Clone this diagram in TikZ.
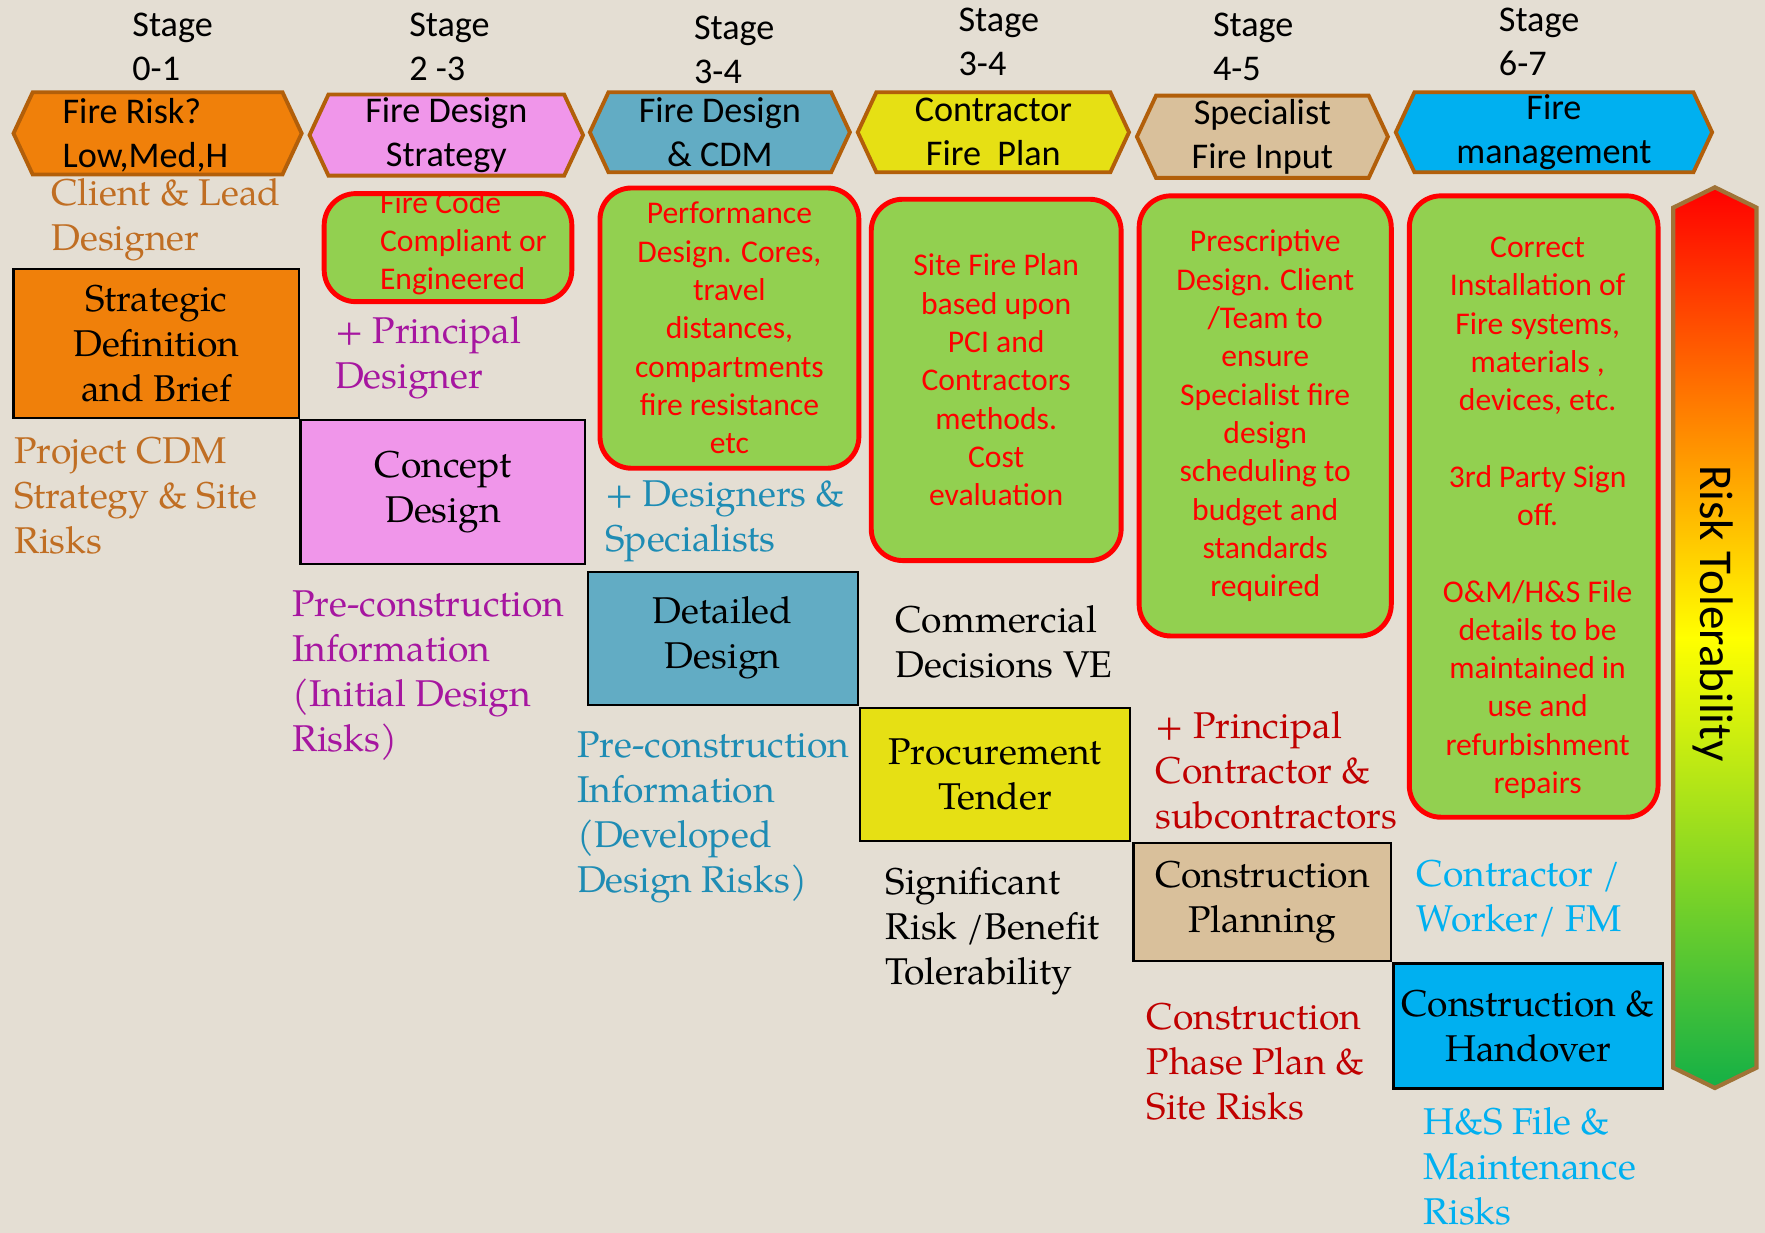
\documentclass[tikz,border=0pt]{standalone}
\usepackage{fontspec}
\newfontfamily\calibri{Carlito}
\setmainfont{TeX Gyre Pagella}
\usetikzlibrary{shapes.symbols}

\definecolor{fondo}{RGB}{228,222,211}
\definecolor{naranja}{RGB}{240,128,10}
\definecolor{rosa}{RGB}{240,150,234}
\definecolor{azul}{RGB}{98,172,196}
\definecolor{amarillo}{RGB}{230,224,20}
\definecolor{canela}{RGB}{217,192,155}
\definecolor{celeste}{RGB}{0,176,240}
\definecolor{verdeclaro}{RGB}{146,208,80}
\definecolor{rojo}{RGB}{255,0,0}
\definecolor{rojooscuro}{RGB}{192,0,0}
\definecolor{borde}{RGB}{178,95,10}
\definecolor{marron}{RGB}{192,110,35}
\definecolor{morado}{RGB}{166,22,160}
\definecolor{turquesa}{RGB}{30,140,180}
\definecolor{bordebarra}{RGB}{160,115,55}
\definecolor{verdeoscuro}{RGB}{20,176,70}

\newcommand{\pu}{0.011257cm}

\begin{document}
\begin{tikzpicture}[x=\pu, y=-\pu,
    hexa/.style={signal, signal to=west and east, signal pointer angle=130,
      draw=borde, line width=1.1pt, inner sep=0pt, align=center,
      font=\calibri\fontsize{10.3}{12.5}\selectfont},
    fase/.style={draw=black, line width=0.6pt, inner sep=0pt, align=center,
      font=\fontsize{10.6}{12.8}\selectfont},
    cajaverde/.style={draw=rojo, fill=verdeclaro, line width=1.4pt, rounded corners=9pt,
      inner sep=0pt, align=center, text=rojo, font=\calibri\fontsize{9}{10.9}\selectfont},
    textoverde/.style={inner sep=0pt, text=rojo, font=\calibri\fontsize{9}{10.9}\selectfont},
    nota/.style={anchor=west, inner sep=0pt, align=left, font=\fontsize{10.6}{12.8}\selectfont},
    etapa/.style={anchor=west, inner sep=0pt, align=left, font=\calibri\fontsize{10.3}{12.5}\selectfont}]

  % Fondo
  \fill[fondo] (0,0) rectangle (1568,1095);
  \useasboundingbox (0,0) rectangle (1568,1095);

  % Etapas
  \node[etapa] (et1) at (117,41.5) {Stage\\0-1};
  \node[etapa] (et2) at (363,41.5) {Stage\\2 -3};
  \node[etapa] (et3) at (616,44.5) {Stage\\3-4};
  \node[etapa] (et4) at (851,37.5) {Stage\\3-4};
  \node[etapa] (et5) at (1077,41.5) {Stage\\4-5};
  \node[etapa] (et6) at (1331,37.5) {Stage\\6-7};

  % Hexagonos
  \node[hexa, fill=naranja, minimum width=256*\pu, minimum height=73*\pu] (hx1) at (140,118.5) {};
  \node[etapa] (hx1t) at (55,120) {Fire Risk?\\Low,Med,H};
  \node[hexa, fill=rosa, minimum width=243*\pu, minimum height=72*\pu] (hx2) at (396.5,120) {Fire Design\\Strategy};
  \node[hexa, fill=azul, minimum width=231*\pu, minimum height=71*\pu] (hx3) at (639.5,117.5) {Fire Design\\\& CDM};
  \node[hexa, fill=amarillo, minimum width=241*\pu, minimum height=71*\pu] (hx4) at (882.5,117.5) {Contractor\\Fire~~Plan};
  \node[hexa, fill=canela, minimum width=223*\pu, minimum height=73*\pu] (hx5) at (1121.5,121.5) {Specialist\\Fire Input};
  \node[hexa, fill=celeste, minimum width=281*\pu, minimum height=71*\pu] (hx6) at (1380.5,117.5) {Fire\\management};

  % Cajas verdes
  \node[cajaverde, minimum width=220*\pu, minimum height=96*\pu] (cv1) at (398,220) {};
  \node[textoverde, anchor=west, align=left] (cv1t) at (337,216) {Fire Code\\Compliant or\\Engineered};
  \node[cajaverde, minimum width=230*\pu, minimum height=249*\pu] (cv2) at (648,291.5) {Performance\\Design. Cores,\\travel\\distances,\\compartments\\fire resistance\\etc};
  \node[cajaverde, minimum width=222*\pu, minimum height=321*\pu] (cv3) at (885,337.5) {Site Fire Plan\\based upon\\PCI and\\Contractors\\methods.\\Cost\\evaluation};
  \node[cajaverde, minimum width=224*\pu, minimum height=391*\pu] (cv4) at (1124,369.5) {Prescriptive\\Design. Client\\/Team to\\ensure\\Specialist fire\\design\\scheduling to\\budget and\\standards\\required};
  \node[cajaverde, minimum width=221*\pu, minimum height=552*\pu] (cv5) at (1362.5,450) {};
  \node[textoverde, align=center] (cv5t) at (1366,460) {Correct\\Installation of\\Fire systems,\\materials ,\\devices, etc.\\[10.9pt]3rd Party Sign\\off.\\[10.9pt]O\&M/H\&S File\\details to be\\maintained in\\use and\\refurbishment\\repairs};

  % Fases
  \node[fase, fill=naranja, minimum width=254*\pu, minimum height=132*\pu] (f1) at (139,305) {Strategic\\Definition\\and Brief};
  \node[fase, fill=rosa, minimum width=253*\pu, minimum height=128*\pu] (f2) at (393.5,437) {Concept\\Design};
  \node[fase, fill=azul, minimum width=240*\pu, minimum height=118*\pu] (f3) at (642,567) {Detailed\\Design};
  \node[fase, fill=amarillo, minimum width=240*\pu, minimum height=118*\pu] (f4) at (884,688) {Procurement\\Tender};
  \node[fase, fill=canela, minimum width=229*\pu, minimum height=105*\pu] (f5) at (1121.5,801.5) {Construction\\Planning};
  \node[fase, fill=celeste, minimum width=239*\pu, minimum height=111*\pu] (f6) at (1357.5,911.5) {Construction \&\\Handover};

  % Notas
  \node[nota, text=marron] (n1) at (45,195) {Client \& Lead\\Designer};
  \node[nota, text=morado] (n2) at (297,318) {+ Principal\\Designer};
  \node[nota, text=marron] (n3) at (12,440) {Project CDM\\Strategy \& Site\\Risks};
  \node[nota, text=turquesa] (n4) at (537,463) {+ Designers \&\\Specialists};
  \node[nota, text=morado] (n5) at (259,600) {Pre-construction\\Information\\(Initial Design\\Risks)};
  \node[nota] (n6) at (795,570) {Commercial\\Decisions VE};
  \node[nota, text=turquesa] (n7) at (512,726) {Pre-construction\\Information\\(Developed\\Design Risks)};
  \node[nota, text=rojooscuro] (n8) at (1026,684) {+ Principal\\Contractor \&\\subcontractors};
  \node[nota] (n9) at (786,827) {Significant\\Risk /Benefit\\Tolerability};
  \node[nota, text=celeste] (n10) at (1258,798.5) {Contractor /\\Worker/ FM};
  \node[nota, text=rojooscuro] (n11) at (1018,943) {Construction\\Phase Plan \&\\Site Risks};
  \node[nota, text=celeste] (n12) at (1264,1036) {H\&S File \&\\Maintenance\\Risks};

  % Barra de riesgo
  \node[signal, signal to=north and south, signal pointer angle=128, draw=bordebarra, line width=1.2pt,
    top color=rojo, bottom color=verdeoscuro, middle color=yellow,
    minimum width=74*\pu, minimum height=764*\pu, inner sep=0pt] (barra) at (1523.5,566.5) {};
  \node[rotate=-90, inner sep=0pt, font=\calibri\fontsize{13.4}{16}\selectfont] (riesgo) at (1522,545) {Risk Tolerability};
\end{tikzpicture}
\end{document}
